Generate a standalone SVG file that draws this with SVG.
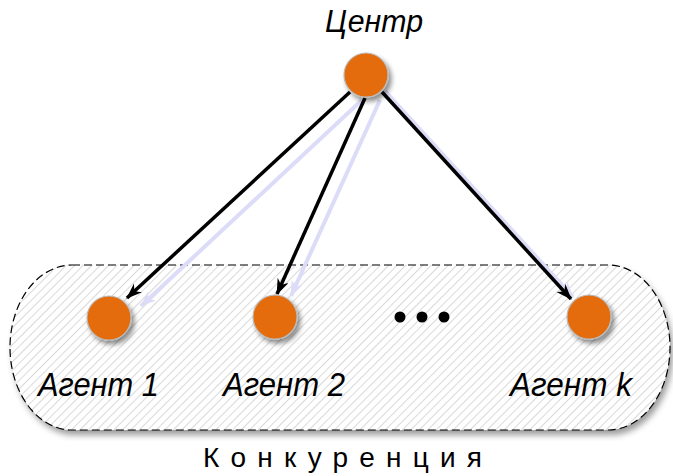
<svg xmlns="http://www.w3.org/2000/svg" width="673" height="476" viewBox="0 0 673 476">
<style>
.node{fill:#E46C0A;stroke:#BBBBBB;stroke-width:1.2;filter:url(#sh)}
.lbl{font-family:"Liberation Sans",Arial,sans-serif;font-style:italic;fill:#000}
.edge{stroke:#000;stroke-width:3.5;fill:none;marker-end:url(#ah)}
.ghost{stroke:#DCDCF8;stroke-width:4;fill:none;marker-end:url(#ahg)}
</style>
<defs>
<pattern id="hatch" width="6" height="6" patternUnits="userSpaceOnUse" patternTransform="rotate(45)">
<rect width="6" height="6" fill="#fff"/>
<line x1="0" y1="0" x2="0" y2="6" stroke="#D9D9D9" stroke-width="2"/>
</pattern>
<filter id="sh" x="-50%" y="-50%" width="200%" height="200%">
<feDropShadow dx="3" dy="4" stdDeviation="2.5" flood-color="#000" flood-opacity="0.45"/>
</filter>
<filter id="blur" x="-10%" y="-20%" width="120%" height="140%">
<feGaussianBlur stdDeviation="3"/>
</filter>
<marker id="ah" markerWidth="18" markerHeight="14" refX="15" refY="6" orient="auto" markerUnits="userSpaceOnUse">
<path d="M0,0 L16,6 L0,12 L5,6 Z" fill="#000"/>
</marker>
<marker id="ahg" markerWidth="18" markerHeight="14" refX="15" refY="6" orient="auto" markerUnits="userSpaceOnUse">
<path d="M0,0 L16,6 L0,12 L5,6 Z" fill="#DCDCF8"/>
</marker>
</defs>
<g id="group-competition">
<rect x="13" y="270" width="660" height="165" rx="62" ry="82.5" fill="#666" opacity="0.65" filter="url(#blur)"/>
<rect x="10" y="265" width="660" height="165" rx="62" ry="82.5" fill="url(#hatch)" stroke="#000" stroke-width="1.2" stroke-dasharray="8,4"/>
<text x="203" y="467" font-family="'Liberation Sans',Arial,sans-serif" font-size="28" fill="#000" textLength="279" lengthAdjust="spacing">Конкуренция</text>
</g>
<g id="connectors">
<line class="ghost" x1="362" y1="100" x2="141" y2="306"/>
<line class="ghost" x1="380" y1="100" x2="291" y2="296"/>
<line class="ghost" x1="385" y1="91" x2="573" y2="297" stroke-width="2"/>
<line class="edge" x1="350" y1="92" x2="127" y2="298"/>
<line class="edge" x1="365" y1="98" x2="277" y2="294"/>
<line class="edge" x1="382" y1="92" x2="571" y2="299"/>
</g>
<g id="center">
<circle class="node" cx="366" cy="75" r="22"/>
<text class="lbl" x="325" y="32" font-size="31" textLength="98" lengthAdjust="spacingAndGlyphs">Центр</text>
</g>
<g id="agent-1">
<circle class="node" cx="109" cy="318" r="22"/>
<text class="lbl" x="38" y="396" font-size="33" textLength="121" lengthAdjust="spacingAndGlyphs">Агент 1</text>
</g>
<g id="agent-2">
<circle class="node" cx="275" cy="317" r="22"/>
<text class="lbl" x="223" y="396" font-size="33" textLength="122" lengthAdjust="spacingAndGlyphs">Агент 2</text>
</g>
<g id="ellipsis">
<circle cx="400" cy="317" r="5.5" fill="#000"/>
<circle cx="422" cy="317" r="5.5" fill="#000"/>
<circle cx="444" cy="317" r="5.5" fill="#000"/>
</g>
<g id="agent-k">
<circle class="node" cx="589" cy="317" r="22"/>
<text class="lbl" x="510" y="396" font-size="33" textLength="122" lengthAdjust="spacingAndGlyphs">Агент k</text>
</g>
</svg>
